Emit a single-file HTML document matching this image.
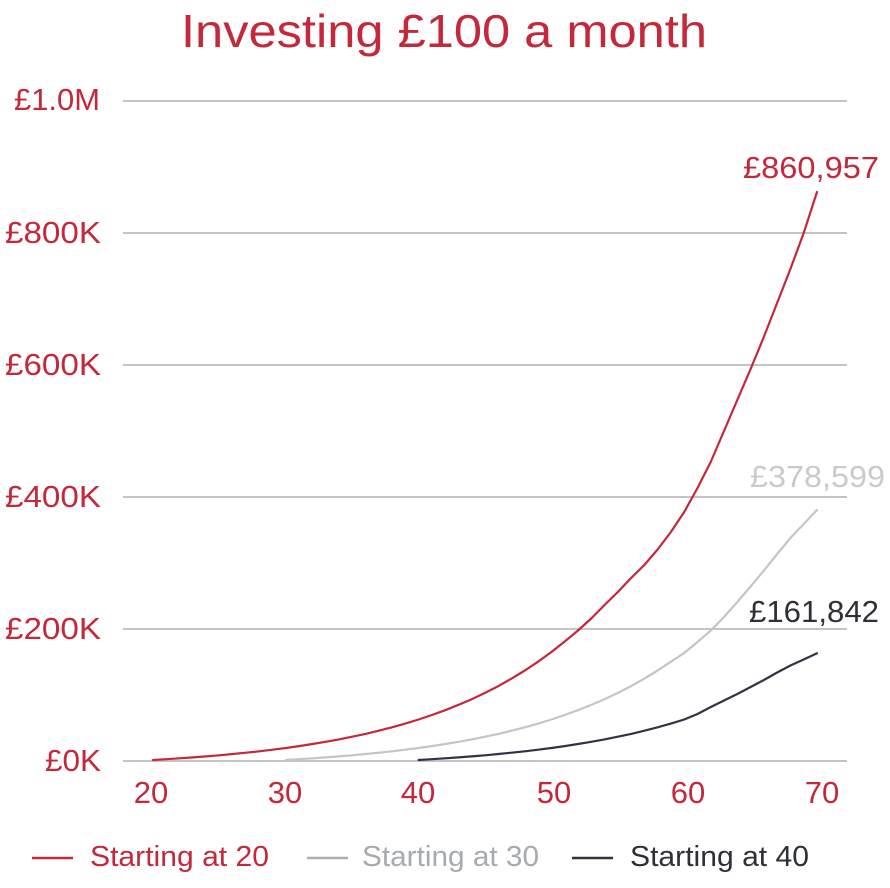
<!DOCTYPE html>
<html>
<head>
<meta charset="utf-8">
<style>
  html,body{margin:0;padding:0;background:#fff;}
  svg{display:block;}
  text{font-family:"Liberation Sans","DejaVu Sans",sans-serif;}
</style>
</head>
<body>
<svg width="890" height="888" viewBox="0 0 890 888" xmlns="http://www.w3.org/2000/svg">
  <!-- Title -->
  <text x="181" y="47" font-size="46" fill="#c4283a" textLength="526" lengthAdjust="spacingAndGlyphs">Investing £100 a month</text>

  <!-- Gridlines -->
  <g stroke="#c4c4c4" stroke-width="2">
    <line x1="123" y1="101" x2="847" y2="101"/>
    <line x1="123" y1="233" x2="847" y2="233"/>
    <line x1="123" y1="365" x2="847" y2="365"/>
    <line x1="123" y1="497" x2="847" y2="497"/>
    <line x1="123" y1="629" x2="847" y2="629"/>
    <line x1="123" y1="761" x2="847" y2="761"/>
  </g>

  <!-- Y labels -->
  <g font-size="31" fill="#c4283a">
    <text x="14" y="110" textLength="86" lengthAdjust="spacingAndGlyphs">£1.0M</text>
    <text x="5" y="243" textLength="96" lengthAdjust="spacingAndGlyphs">£800K</text>
    <text x="5" y="375" textLength="96" lengthAdjust="spacingAndGlyphs">£600K</text>
    <text x="5" y="507" textLength="96" lengthAdjust="spacingAndGlyphs">£400K</text>
    <text x="5" y="639" textLength="96" lengthAdjust="spacingAndGlyphs">£200K</text>
    <text x="45" y="771" textLength="56" lengthAdjust="spacingAndGlyphs">£0K</text>
  </g>

  <!-- X labels -->
  <g font-size="31" fill="#c4283a" text-anchor="middle">
    <text x="151" y="803">20</text>
    <text x="285" y="803">30</text>
    <text x="418" y="803">40</text>
    <text x="554" y="803">50</text>
    <text x="688" y="803">60</text>
    <text x="822" y="803">70</text>
  </g>

  <!-- Starting at 40 (dark) -->
  <polyline fill="none" stroke="#2f3540" stroke-width="2.2" stroke-linejoin="round" stroke-linecap="round"
    points="418.6,760 431.9,759.2 445.2,758.3 458.4,757.4 471.7,756.4 485,755.3 498.3,754 511.6,752.7 524.8,751.3 538.1,749.7 551.4,748 564.7,746.1 578,744 591.2,741.8 604.5,739.4 617.8,736.7 631.1,733.9 644.4,730.7 657.6,727.3 670.9,723.6 684.2,719.5 697.5,714 710.8,707 724,700.5 737.3,694 750.6,687 763.9,680 777.2,672.5 790.4,665.5 803.7,659.5 817,653.3"/>

  <!-- Starting at 30 (grey) -->
  <polyline fill="none" stroke="#c3c5c7" stroke-width="2.2" stroke-linejoin="round" stroke-linecap="round"
    points="285.8,760 299.1,759.2 312.4,758.3 325.6,757.4 338.9,756.4 352.2,755.3 365.5,754 378.8,752.7 392,751.3 405.3,749.7 418.6,748 431.9,746.1 445.2,744 458.4,741.8 471.7,739.4 485,736.7 498.3,733.9 511.6,730.7 524.8,727.3 538.1,723.6 551.4,719.5 564.7,715 578,710.2 591.2,704.9 604.5,699.2 617.8,692.9 631.1,686.1 644.4,678.6 657.6,670.5 670.9,661.7 684.2,653 697.5,642 710.8,630.5 724,617 737.3,602 750.6,586.5 763.9,570.5 777.2,554 790.4,538 803.7,524 817,510"/>

  <!-- Starting at 20 (red) -->
  <polyline fill="none" stroke="#c4283a" stroke-width="2.2" stroke-linejoin="round" stroke-linecap="round"
    points="153,760 166.3,759.2 179.6,758.3 192.8,757.4 206.1,756.4 219.4,755.3 232.7,754 246,752.7 259.2,751.3 272.5,749.7 285.8,748 299.1,746.1 312.4,744 325.6,741.8 338.9,739.4 352.2,736.7 365.5,733.9 378.8,730.7 392,727.3 405.3,723.6 418.6,719.5 431.9,715 445.2,710.2 458.4,704.9 471.7,699.2 485,692.9 498.3,686.1 511.6,678.6 524.8,670.5 538.1,661.7 551.4,652 564.7,641.5 578,630.5 591.2,618.5 604.5,605 617.8,592 631.1,578 644.3,565 657.6,549.5 670.9,532 684.2,512 697.5,488 710.7,462 724,431 737.3,400 750.6,369 763.8,337 777.1,303 790.4,269 803.7,233 817,192"/>

  <!-- End value labels -->
  <g font-size="31">
    <text x="743" y="178" fill="#c4283a" textLength="136" lengthAdjust="spacingAndGlyphs">£860,957</text>
    <text x="750" y="487" fill="#c8cbcd" textLength="135" lengthAdjust="spacingAndGlyphs">£378,599</text>
    <text x="749" y="622" fill="#2e3038" textLength="130" lengthAdjust="spacingAndGlyphs">£161,842</text>
  </g>

  <!-- Legend -->
  <g stroke-width="2.5">
    <line x1="32" y1="858" x2="73" y2="858" stroke="#c4283a"/>
    <line x1="307" y1="858" x2="348" y2="858" stroke="#a9aeb1"/>
    <line x1="572" y1="858" x2="613" y2="858" stroke="#2f3540"/>
  </g>
  <g font-size="29">
    <text x="90" y="866" fill="#c4283a" textLength="179" lengthAdjust="spacingAndGlyphs">Starting at 20</text>
    <text x="362" y="866" fill="#a6abaf" textLength="177" lengthAdjust="spacingAndGlyphs">Starting at 30</text>
    <text x="630" y="866" fill="#2e3038" textLength="179" lengthAdjust="spacingAndGlyphs">Starting at 40</text>
  </g>
</svg>
</body>
</html>
